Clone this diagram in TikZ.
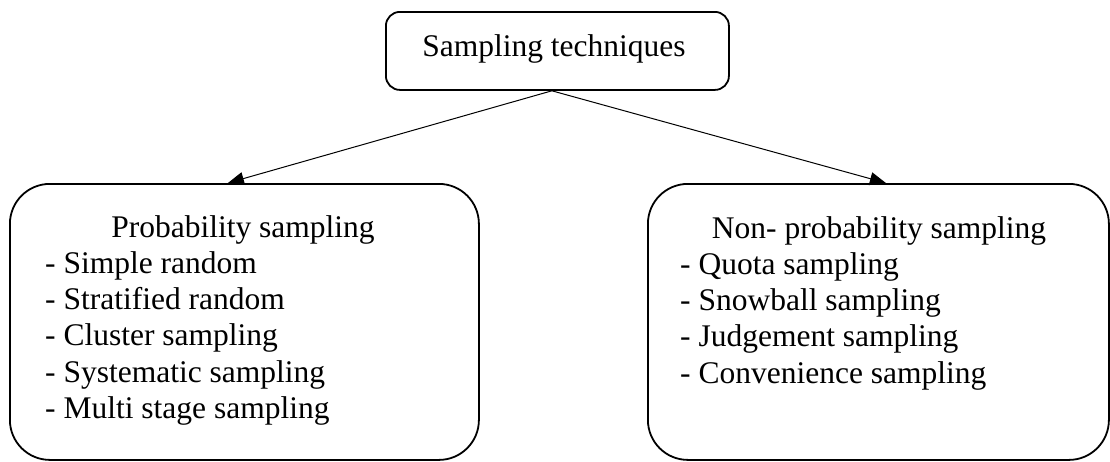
\documentclass[tikz,border=0pt]{standalone}
\usepackage{fontspec}
\setmainfont{Liberation Serif}
\usetikzlibrary{calc,arrows.meta}
\begin{document}
\begin{tikzpicture}[x=1pt,y=-1pt,
  box/.style={draw,line width=1.8pt,rounded corners=#1,inner sep=0pt,anchor=north west},
  lbl/.style={inner sep=0pt,anchor=base west,font=\fontsize{31.5}{36}\selectfont},
  ttl/.style={inner sep=0pt,anchor=base,font=\fontsize{31.5}{36}\selectfont},
  link/.style={line width=1pt,-{Triangle[length=16pt,width=13pt]}}]
\useasboundingbox (0,0) rectangle (1110,461);
% frames
\node[box=14pt,minimum width=343pt,minimum height=78pt] (top) at (385,11) {};
\node[box=40pt,minimum width=469pt,minimum height=276pt] (left) at (9,183) {};
\node[box=40pt,minimum width=461pt,minimum height=276pt] (right) at (647,183) {};
% root label
\node[ttl] (tt) at (554,56) {Sampling techniques};
% probability sampling
\node[ttl] (lt) at (243,237) {Probability sampling};
\node[lbl] (l1) at (45,273.3) {- Simple random};
\node[lbl] (l2) at (45,309.6) {- Stratified random};
\node[lbl] (l3) at (45,345.9) {- Cluster sampling};
\node[lbl] (l4) at (45,382.2) {- Systematic sampling};
\node[lbl] (l5) at (45,418.5) {- Multi stage sampling};
% non-probability sampling
\node[ttl] (rt) at (879,238) {Non- probability sampling};
\node[lbl] (r1) at (680,274.3) {- Quota sampling};
\node[lbl] (r2) at (680,310.6) {- Snowball sampling};
\node[lbl] (r3) at (680,346.9) {- Judgement sampling};
\node[lbl] (r4) at (680,383.2) {- Convenience sampling};
% connectors
\coordinate (src) at ($(top.south)+(-5.5,0)$);
\draw[link] (src) -- ($(left.north)+(-16.5,0)$);
\draw[link] (src) -- ($(right.north)+(7.5,0)$);
\end{tikzpicture}
\end{document}
